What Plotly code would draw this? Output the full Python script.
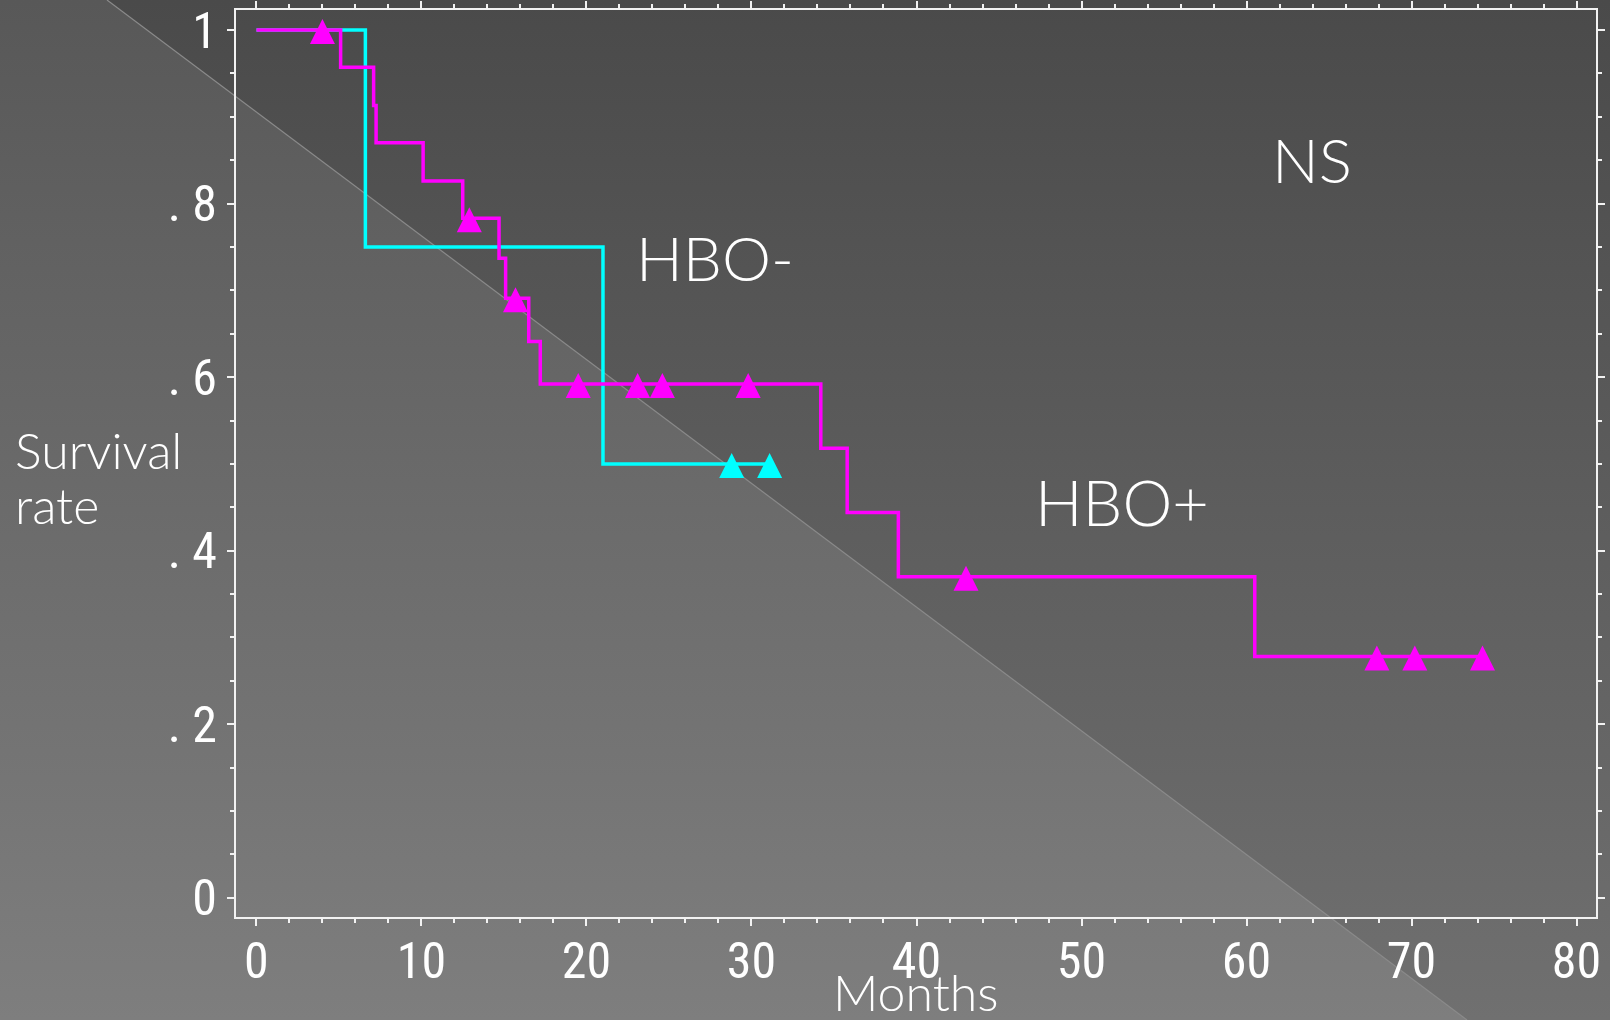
import base64
import numpy as np
import plotly.graph_objects as go

# HBO+ group: step times (months) and Kaplan-Meier survival after each step
hbo_pos_time = [0, 5.1, 7.1, 7.25, 10.1, 12.5, 14.7, 15.1, 16.5, 17.2, 34.2, 35.8, 38.9, 60.5]
hbo_pos_surv = [1.0, 0.957, 0.913, 0.870, 0.826, 0.783, 0.737, 0.691, 0.641, 0.592, 0.518, 0.444, 0.370, 0.278]
hbo_pos_censor = [4.0, 12.9, 15.7, 19.5, 23.1, 24.6, 29.8, 43.0, 67.9, 70.2, 74.3]

# HBO- group
hbo_neg_time = [0, 6.6, 21.0]
hbo_neg_surv = [1.0, 0.75, 0.50]
hbo_neg_censor = [28.8, 31.1]

x_tick_vals = [0, 10, 20, 30, 40, 50, 60, 70, 80]
x_tick_text = ["0", "10", "20", "30", "40", "50", "60", "70", "80"]
y_tick_vals = [0, 0.2, 0.4, 0.6, 0.8, 1.0]
y_tick_text = ["0", ". 2", ". 4", ". 6", ". 8", "1"]

W, H = 1610, 1020
L, R, T, B = 236, 14, 10, 103
PW, PH = W - L - R, H - T - B

MAGENTA = "#ff00ff"
CYAN = "#00ffff"
FRAME = "#f2f2f2"
NUM_FONT = "Liberation Sans Narrow, Arial Narrow, Roboto Condensed, DejaVu Sans Condensed, sans-serif"
TXT_FONT = "Lato, Noto Sans, sans-serif"


def step_xy(times, surv, end):
    xs = list(times) + [end]
    ys = list(surv) + [surv[-1]]
    return xs, ys


def surv_at(times, surv, t):
    idx = np.searchsorted(np.asarray(times), np.asarray(t), side="right") - 1
    return np.asarray(surv)[idx]


# slide-style background: vertical gray gradient split by a diagonal rule
svg = f"""<svg xmlns="http://www.w3.org/2000/svg" width="{W}" height="{H}" viewBox="0 0 {W} {H}">
<defs>
<linearGradient id="dk" x1="0" y1="0" x2="0" y2="1">
<stop offset="0" stop-color="#4a4a4a"/><stop offset="1" stop-color="#707070"/></linearGradient>
<linearGradient id="lt" x1="0" y1="0" x2="0" y2="1">
<stop offset="0" stop-color="#585858"/><stop offset="1" stop-color="#7e7e7e"/></linearGradient>
</defs>
<rect x="0" y="0" width="{W}" height="{H}" fill="url(#dk)"/>
<polygon points="0,0 107,0 1467,1020 0,1020" fill="url(#lt)"/>
<line x1="107" y1="0" x2="1467" y2="1020" stroke="#8a8a8a" stroke-width="1.2"/>
</svg>"""
bg_src = "data:image/svg+xml;base64," + base64.b64encode(svg.encode()).decode()

censor_marker = dict(symbol="arrow-down", angle=180, standoff=11, size=25)

fig = go.Figure()

nx, ny = step_xy(hbo_neg_time, hbo_neg_surv, hbo_neg_censor[-1])
fig.add_trace(go.Scatter(x=nx, y=ny, mode="lines", line=dict(color=CYAN, width=3.5, shape="hv"),
                         name="HBO-", showlegend=False, hoverinfo="skip"))
fig.add_trace(go.Scatter(x=hbo_neg_censor, y=surv_at(hbo_neg_time, hbo_neg_surv, hbo_neg_censor),
                         mode="markers", showlegend=False, hoverinfo="skip",
                         marker=dict(color=CYAN, **censor_marker)))

px_, py_ = step_xy(hbo_pos_time, hbo_pos_surv, hbo_pos_censor[-1])
fig.add_trace(go.Scatter(x=px_, y=py_, mode="lines", line=dict(color=MAGENTA, width=3.5, shape="hv"),
                         name="HBO+", showlegend=False, hoverinfo="skip"))
fig.add_trace(go.Scatter(x=hbo_pos_censor, y=surv_at(hbo_pos_time, hbo_pos_surv, hbo_pos_censor),
                         mode="markers", showlegend=False, hoverinfo="skip",
                         marker=dict(color=MAGENTA, **censor_marker)))

axis_common = dict(
    automargin=False,
    showline=True, linecolor=FRAME, linewidth=2, mirror="ticks",
    ticks="outside", ticklen=7, tickwidth=2, tickcolor=FRAME,
    showgrid=False, zeroline=False,
    tickfont=dict(family=NUM_FONT, size=50, color="white"),
)

fig.update_xaxes(
    range=[-1.24, 81.18], tickmode="array", tickvals=x_tick_vals, ticktext=x_tick_text,
    ticklabelstandoff=-8,
    minor=dict(tickmode="linear", tick0=0, dtick=2, ticks="outside", ticklen=4, tickwidth=2,
               tickcolor=FRAME, showgrid=False),
    **axis_common,
)
fig.update_yaxes(
    range=[-0.0222, 1.0231], tickmode="array", tickvals=y_tick_vals, ticktext=y_tick_text,
    minor=dict(tickmode="linear", tick0=0, dtick=0.05, ticks="outside", ticklen=4, tickwidth=2,
               tickcolor=FRAME, showgrid=False),
    **axis_common,
)

label_font = dict(family=TXT_FONT, size=62, color="white", weight=300)
side_font = dict(family=TXT_FONT, size=50, color="white", weight=300)
annotations = [
    dict(x=22.9, y=0.739, xref="x", yref="y", text="HBO-", xanchor="left", yanchor="middle",
         showarrow=False, font=label_font),
    dict(x=47.05, y=0.457, xref="x", yref="y", text="HBO+", xanchor="left", yanchor="middle",
         showarrow=False, font=dict(label_font, size=63)),
    dict(x=61.45, y=0.851, xref="x", yref="y", text="NS", xanchor="left", yanchor="middle",
         showarrow=False, font=label_font),
    dict(x=(13 - L) / PW, y=1 - (450 - T) / PH, xref="paper", yref="paper", text="Survival",
         xanchor="left", yanchor="middle", showarrow=False, font=side_font),
    dict(x=(13 - L) / PW, y=1 - (505 - T) / PH, xref="paper", yref="paper", text="rate",
         xanchor="left", yanchor="middle", showarrow=False, font=side_font),
    dict(x=0.5, y=1 - (992 - T) / PH, xref="paper", yref="paper", text="Months",
         xanchor="center", yanchor="middle", showarrow=False,
         font=dict(family=TXT_FONT, size=50, color="white", weight=300)),
]

fig.update_layout(
    width=W, height=H,
    margin=dict(l=L, r=R, t=T, b=B, pad=0),
    paper_bgcolor="#5a5a5a",
    plot_bgcolor="rgba(0,0,0,0)",
    showlegend=False,
    annotations=annotations,
    images=[dict(source=bg_src, xref="paper", yref="paper",
                 x=-L / PW, y=1 + T / PH, sizex=W / PW, sizey=H / PH,
                 xanchor="left", yanchor="top", sizing="stretch", layer="below")],
)

fig.write_html("out.html")
